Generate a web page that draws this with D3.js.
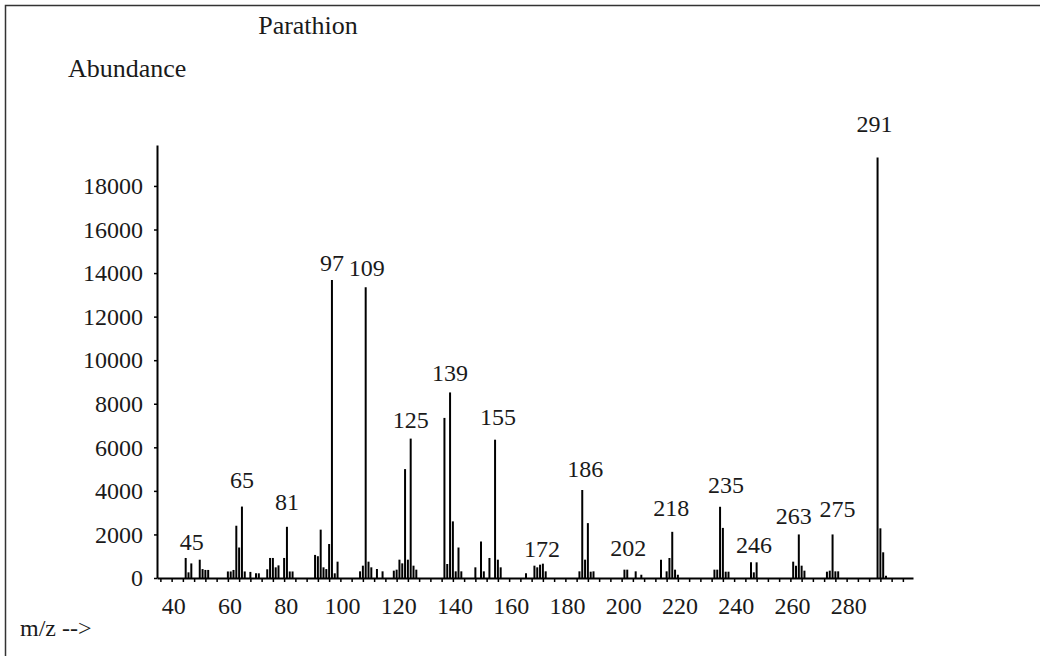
<!DOCTYPE html>
<html>
<head>
<meta charset="utf-8">
<script src="https://cdn.jsdelivr.net/npm/d3@7"></script>
<style>
  html, body { margin: 0; padding: 0; background: #fff; }
  svg { display: block; }
  text { font-family: "Liberation Serif", "Times New Roman", serif; fill: #1a1a1a; }
</style>
</head>
<body>
<svg id="chart" width="1040" height="656"></svg>
<script>
// Parathion EI mass spectrum: m/z values and their abundances
const mz = [
  45, 46, 47, 50, 51, 52, 53, 60, 61, 62, 63, 64, 65, 66, 68, 70, 71, 74, 75, 76, 77, 78, 80, 81, 82, 83,
  91, 92, 93, 94, 95, 96, 97, 98, 99,
  107, 108, 109, 110, 111, 113, 115, 119, 120, 121, 122, 123, 124, 125, 126, 127,
  137, 138, 139, 140, 141, 142, 143, 148, 150, 151, 153, 155, 156, 157, 166,
  169, 170, 171, 172, 173, 185, 186, 187, 188, 189, 190,
  201, 202, 205, 207, 214, 216, 217, 218, 219, 220,
  233, 234, 235, 236, 237, 238, 246, 247, 248,
  261, 262, 263, 264, 265, 273, 274, 275, 276, 277,
  291, 292, 293, 294
];
const abundance = [
  920, 260, 670, 840, 410, 370, 370, 300, 300, 370, 2400, 1400, 3280, 300, 280, 215, 215, 400, 920, 920, 490, 580, 920, 2350, 300, 300,
  1060, 1000, 2220, 490, 410, 1560, 13680, 215, 750,
  306, 566, 13350, 750, 490, 413, 306, 337, 383, 842, 673, 5000, 842, 6400, 566, 383,
  7350, 643, 8520, 2600, 306, 1400, 306, 490, 1680, 306, 920, 6350, 842, 490, 215,
  566, 490, 612, 658, 306, 306, 4040, 842, 2520, 290, 306,
  383, 383, 306, 150, 842, 306, 918, 2120, 383, 150,
  383, 383, 3270, 2300, 290, 290, 720, 260, 720,
  750, 566, 2000, 566, 337, 290, 337, 2000, 306, 306,
  19310, 2280, 1180, 100
];
// peaks that carry an m/z label
const labeledPeaks = [45, 65, 81, 97, 109, 125, 139, 155, 172, 186, 202, 218, 235, 246, 263, 275, 291];
// axis tick values
const yTickValues = [0, 2000, 4000, 6000, 8000, 10000, 12000, 14000, 16000, 18000];
const xLabelValues = [40, 60, 80, 100, 120, 140, 160, 180, 200, 220, 240, 260, 280];
const xMinorValues = d3.range(36, 301, 4);

// label placement: [dx, gap above the peak top]
const labelPlacement = {
  45: [6, 8], 65: [0, 19], 81: [0, 17], 97: [0, 9], 109: [1, 11], 125: [0, 11],
  139: [0, 11], 155: [3, 15], 172: [-1, 7], 186: [3, 13], 202: [1, 14], 218: [-1, 16],
  235: [6, 14], 246: [3, 9], 263: [-5, 10], 275: [5, 17], 291: [-3, 25]
};

const FONT = "Liberation Serif, Times New Roman, serif";
const svg = d3.select("#chart");

const x = d3.scaleLinear().domain([34.8, 303.6]).range([157, 913]);
const y = d3.scaleLinear().domain([0, 19880]).range([578, 145]);

// outer frame (left and top edges)
svg.append("path")
  .attr("d", "M5.5,656V5.5H1040")
  .attr("fill", "none")
  .attr("stroke", "#333")
  .attr("stroke-width", 1.5);

// titles
svg.append("text").attr("x", 308).attr("y", 34).attr("font-family", FONT)
  .attr("text-anchor", "middle").attr("font-size", 26).text("Parathion");
svg.append("text").attr("x", 68).attr("y", 77).attr("font-family", FONT)
  .attr("font-size", 26).text("Abundance");
svg.append("text").attr("x", 20).attr("y", 636).attr("font-family", FONT)
  .attr("font-size", 24).text("m/z -->");

// spectrum sticks
const peaks = mz.map((m, i) => ({ m, v: abundance[i] }));
svg.append("g")
  .selectAll("line")
  .data(peaks)
  .join("line")
  .attr("x1", d => x(d.m)).attr("x2", d => x(d.m))
  .attr("y1", y(0)).attr("y2", d => y(d.v))
  .attr("stroke", "#000")
  .attr("stroke-width", 2);

// x axis: minor ticks
const xMinor = svg.append("g")
  .attr("transform", `translate(0,${y(0)})`)
  .call(d3.axisBottom(x).tickValues(xMinorValues).tickFormat("").tickSize(4).tickSizeOuter(0));
xMinor.select(".domain").attr("stroke", "#000").attr("stroke-width", 2);
xMinor.selectAll(".tick line").attr("stroke", "#000").attr("stroke-width", 1.5);

// x axis: labels
const xLab = svg.append("g")
  .attr("transform", `translate(0,${y(0)})`)
  .call(d3.axisBottom(x).tickValues(xLabelValues).tickFormat(d3.format("d")).tickSize(0).tickPadding(19));
xLab.select(".domain").remove();
xLab.attr("font-family", FONT);
xLab.selectAll("text")
  .attr("font-size", 24).attr("fill", "#1a1a1a")
  .attr("dx", 1.5);

// y axis
const yAxis = svg.append("g")
  .attr("transform", `translate(${x(34.8)},0)`)
  .call(d3.axisLeft(y).tickValues(yTickValues).tickFormat(d3.format("d")).tickSize(3).tickPadding(11).tickSizeOuter(0));
yAxis.attr("font-family", FONT);
yAxis.select(".domain").attr("stroke", "#000").attr("stroke-width", 2);
yAxis.selectAll(".tick line").attr("stroke", "#000").attr("stroke-width", 1.5);
yAxis.selectAll("text")
  .attr("font-size", 24).attr("fill", "#1a1a1a");

// peak labels
const byMz = new Map(peaks.map(d => [d.m, d.v]));
svg.append("g")
  .attr("font-family", FONT)
  .selectAll("text")
  .data(labeledPeaks)
  .join("text")
  .attr("x", m => x(m) + labelPlacement[m][0])
  .attr("y", m => y(byMz.get(m)) - labelPlacement[m][1])
  .attr("text-anchor", "middle")
  .attr("font-size", 24)
  .text(m => m);
</script>
</body>
</html>
